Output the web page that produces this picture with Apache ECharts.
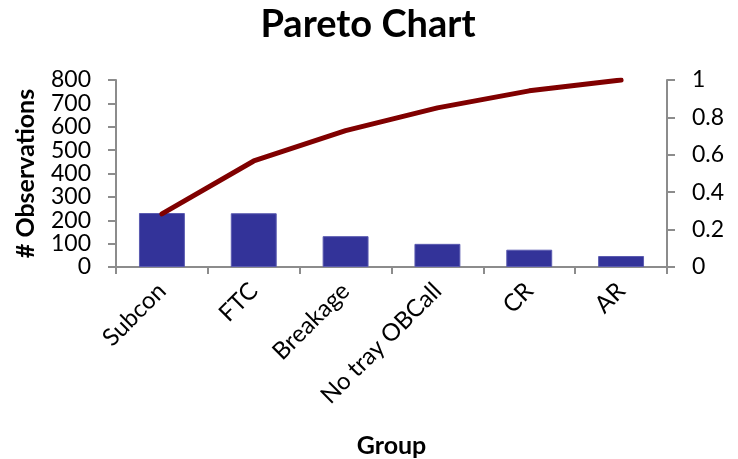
<!DOCTYPE html>
<html>
<head>
<meta charset="utf-8">
<script src="https://cdn.jsdelivr.net/npm/echarts@6/dist/echarts.min.js"></script>
<style>
  html, body { margin: 0; padding: 0; background: #fff; }
  #chart { width: 738px; height: 459px; }
</style>
</head>
<body>
<div id="chart"></div>
<script>
// Observation counts per group, sorted descending
const groups = ['Subcon', 'FTC', 'Breakage', 'No tray OBCall', 'CR', 'AR'];
const observations = [231, 230, 132, 99, 74, 47];
// Cumulative share of all observations
const cumulativeShare = [0.284, 0.567, 0.729, 0.851, 0.942, 1.0];

const FONT = 'Lato';
const axisGray = '#8c8c8c';

const chart = echarts.init(document.getElementById('chart'), null, { renderer: 'canvas' });

chart.setOption({
  animation: false,
  backgroundColor: '#ffffff',
  title: {
    text: 'Pareto Chart',
    left: 363,
    top: 1,
    textAlign: 'center',
    textStyle: { fontFamily: FONT, fontWeight: 'bold', fontSize: 38, color: '#000' }
  },
  grid: { left: 116, right: 71, top: 80, bottom: 190, containLabel: false },
  xAxis: {
    type: 'category',
    data: groups,
    name: 'Group',
    nameLocation: 'middle',
    nameGap: 166,
    nameTextStyle: { fontFamily: FONT, fontWeight: 'bold', fontSize: 25, color: '#000' },
    axisLine: { lineStyle: { color: axisGray, width: 2 } },
    axisTick: { show: true, interval: 0, length: 7, lineStyle: { color: axisGray, width: 2 } },
    axisLabel: { rotate: 45, interval: 0, margin: 20, fontFamily: FONT, fontSize: 24, color: '#000' },
    splitLine: { show: false }
  },
  yAxis: [
    {
      type: 'value',
      min: 0, max: 800, interval: 100,
      name: '# Observations',
      nameLocation: 'middle',
      nameGap: 78,
      nameRotate: 90,
      nameTextStyle: { fontFamily: FONT, fontWeight: 'bold', fontSize: 25, color: '#000' },
      axisLine: { show: true, lineStyle: { color: axisGray, width: 2 } },
      axisTick: { show: true, length: 8, lineStyle: { color: axisGray, width: 2 } },
      axisLabel: { margin: 25, fontFamily: FONT, fontSize: 23, color: '#000' },
      splitLine: { show: false }
    },
    {
      type: 'value',
      min: 0, max: 1, interval: 0.2,
      position: 'right',
      axisLine: { show: true, lineStyle: { color: axisGray, width: 2 } },
      axisTick: { show: true, length: 8, lineStyle: { color: axisGray, width: 2 } },
      axisLabel: { margin: 25, fontFamily: FONT, fontSize: 23, color: '#000' },
      splitLine: { show: false }
    }
  ],
  series: [
    {
      name: 'Observations',
      type: 'bar',
      data: observations,
      barWidth: '50%',
      itemStyle: { color: '#333399', borderColor: '#5b5bb0', borderWidth: 1 }
    },
    {
      name: 'Cumulative',
      type: 'line',
      yAxisIndex: 1,
      data: cumulativeShare,
      symbol: 'none',
      lineStyle: { color: '#800000', width: 5, cap: 'round', join: 'round' }
    }
  ]
});
</script>
</body>
</html>
